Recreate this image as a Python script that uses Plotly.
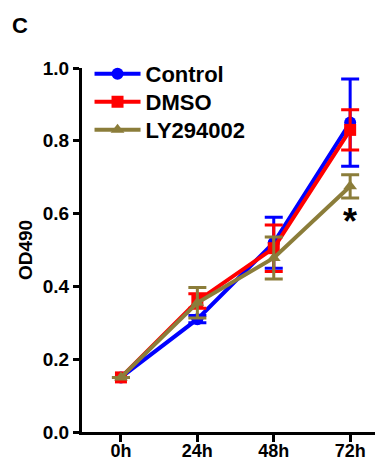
import plotly.graph_objects as go

categories = ["0h", "24h", "48h", "72h"]
control = [0.15, 0.31, 0.52, 0.85]
control_err = [0.0, 0.01, 0.07, 0.12]
dmso = [0.15, 0.36, 0.505, 0.83]
dmso_err = [0.0, 0.02, 0.064, 0.055]
ly = [0.15, 0.355, 0.478, 0.675]
ly_err = [0.0, 0.042, 0.058, 0.032]
yticks = [0.0, 0.2, 0.4, 0.6, 0.8, 1.0]

xpos = list(range(len(categories)))
font = "Arial, Liberation Sans, sans-serif"

fig = go.Figure()
series = [
    ("Control", control, control_err, "#0000FF", "circle", "legend"),
    ("DMSO", dmso, dmso_err, "#FF0000", "square", "legend2"),
    ("LY294002", ly, ly_err, "#8B7D3A", "triangle-up", "legend3"),
]
for name, vals, errs, color, sym, lg in series:
    fig.add_trace(go.Scatter(
        x=xpos, y=vals, name="<b>%s</b>" % name, legend=lg,
        mode="lines+markers",
        line=dict(color=color, width=4),
        marker=dict(symbol=sym, size=12, color=color),
        error_y=dict(type="data", array=errs, visible=True, color=color,
                     thickness=3, width=9),
        cliponaxis=False,
    ))

fig.add_annotation(x=3, y=0.577, text="<b>*</b>", showarrow=False,
                   font=dict(family=font, size=36, color="black"),
                   xref="x", yref="y")
fig.add_annotation(x=-0.206, y=1.118, text="<b>C</b>", showarrow=False,
                   xref="paper", yref="paper", xanchor="center", yanchor="middle",
                   font=dict(family=font, size=22, color="black"))

leg_common = dict(x=0.025, xanchor="left", yanchor="middle",
                  font=dict(family=font, size=22, color="black"),
                  bgcolor="rgba(0,0,0,0)", itemwidth=46)

fig.update_layout(
    width=383, height=461,
    margin=dict(l=74, r=8, t=60, b=37),
    paper_bgcolor="white", plot_bgcolor="white",
    font=dict(family=font, color="black"),
    showlegend=True,
    legend=dict(y=0.9835, **leg_common),
    legend2=dict(y=0.9066, **leg_common),
    legend3=dict(y=0.8297, **leg_common),
    xaxis=dict(
        range=[-0.51, 3.43], tickvals=xpos,
        ticktext=["<b>%s</b>" % c for c in categories],
        showline=True, linecolor="black", linewidth=3,
        ticks="outside", ticklen=7, tickwidth=3, tickcolor="black",
        tickfont=dict(family=font, size=18, color="black"),
        ticklabelstandoff=-7,
        showgrid=False, zeroline=False, automargin=False,
    ),
    yaxis=dict(
        range=[0, 1.0], tickvals=yticks,
        ticktext=["<b>%.1f</b>" % v for v in yticks],
        showline=True, linecolor="black", linewidth=3,
        ticks="outside", ticklen=6, tickwidth=3, tickcolor="black",
        tickfont=dict(family=font, size=19, color="black"),
        showgrid=False, zeroline=False, automargin=False,
        title=dict(text="<b>OD490</b>", font=dict(family=font, size=19, color="black"), standoff=6),
    ),
)

fig.write_html("out.html")
